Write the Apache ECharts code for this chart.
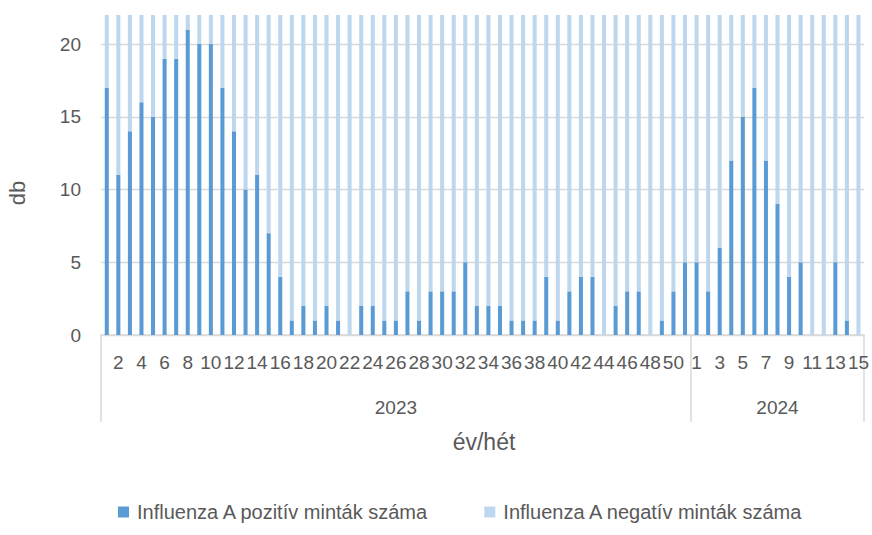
<!DOCTYPE html>
<html lang="hu">
<head>
    <meta charset="UTF-8">
    <title>Influenza A minták</title>
    <script src="https://cdn.jsdelivr.net/npm/echarts@6/dist/echarts.min.js"></script>
    <style>
        body { margin: 0; background: #fff; }
        #chart { width: 872px; height: 535px; }
    </style>
</head>
<body>
<div id="chart"></div>
<script>
    // hetek: 2023 1-51, 2024 1-15
    var weeks2023 = [1,2,3,4,5,6,7,8,9,10,11,12,13,14,15,16,17,18,19,20,21,22,23,24,25,26,27,28,29,30,
        31,32,33,34,35,36,37,38,39,40,41,42,43,44,45,46,47,48,49,50,51];
    var weeks2024 = [1,2,3,4,5,6,7,8,9,10,11,12,13,14,15];

    // pozitív minták
    var pos2023 = [17,11,14,16,15,19,19,21,20,20, 17,14,10,11,7,4,1,2,1,2,
        1,0,2,2,1,1,3,1,3,3, 3,5,2,2,2,1,1,1,4,1, 3,4,4,0,2,3,3,0,1,3,5];
    var pos2024 = [5,3,6,12,15,17,12,9,4,5,0,0,5,1,0];

    // negatív minták (a tengely 22-nél levágja)
    var neg2023 = [5,11,8,6,7,3,3,1,2,2, 5,8,12,11,15,18,21,20,21,20,
        21,22,20,20,21,21,19,21,19,19, 19,17,20,20,20,21,21,21,18,21, 19,18,18,22,20,19,19,22,21,19,17];
    var neg2024 = [17,19,16,10,7,5,10,13,18,17,22,22,17,21,22];

    var yTicks = [0, 5, 10, 15, 20];

    var categories = [];
    weeks2023.forEach(function (w) { categories.push('2023|' + w); });
    weeks2024.forEach(function (w) { categories.push('2024|' + w); });
    var posData = pos2023.concat(pos2024);
    var negData = neg2023.concat(neg2024);

    var firstOf2024 = weeks2023.length;
    var mid2023 = Math.floor(weeks2023.length / 2);
    var mid2024 = weeks2023.length + Math.floor(weeks2024.length / 2);

    var txt = '#595959';
    var font = 'Liberation Sans';

    var chart = echarts.init(document.getElementById('chart'), null, {renderer: 'svg'});
    chart.setOption({
        animation: false,
        textStyle: {fontFamily: font},
        grid: {left: 101, right: 4, top: 15, bottom: 200},
        legend: {
            left: 113, top: 497,
            itemWidth: 11, itemHeight: 11, itemGap: 55,
            icon: 'rect',
            textStyle: {color: txt, fontSize: 20, fontFamily: font, padding: [0, 0, 0, 3]},
            data: ['Influenza A pozitív minták száma', 'Influenza A negatív minták száma']
        },
        xAxis: [{
            type: 'category',
            data: categories,
            axisLine: {lineStyle: {color: '#D9D9D9', width: 1.5}},
            axisTick: {
                show: true, length: 87,
                interval: function (i) { return i === 0 || i === firstOf2024; },
                lineStyle: {color: '#D9D9D9', width: 1.5}
            },
            axisLabel: {
                color: txt, fontSize: 19, margin: 18,
                interval: function (i) { return i % 2 === 1; },
                formatter: function (v) { return v.split('|')[1]; }
            }
        }, {
            type: 'category',
            data: categories,
            position: 'bottom',
            offset: 45,
            axisLine: {show: false},
            axisTick: {show: false},
            axisLabel: {
                color: txt, fontSize: 19, margin: 18,
                interval: function (i) { return i === mid2023 || i === mid2024; },
                formatter: function (v) { return v.split('|')[0]; }
            }
        }],
        yAxis: {
            type: 'value',
            min: 0, max: 22, interval: 5,
            axisLine: {show: false},
            axisTick: {show: false},
            splitLine: {showMaxLine: false, lineStyle: {color: '#D9D9D9', width: 1.3}},
            axisLabel: {
                color: txt, fontSize: 19, margin: 20, showMaxLabel: false,
                formatter: function (v) { return yTicks.indexOf(v) >= 0 ? String(v) : ''; }
            }
        },
        graphic: [{
            type: 'text', x: 17, y: 193, rotation: Math.PI / 2,
            style: {text: 'db', fill: txt, fontSize: 22, fontFamily: font, align: 'center', verticalAlign: 'middle'}
        }, {
            type: 'text', x: 484, y: 442,
            style: {text: 'év/hét', fill: txt, fontSize: 23, fontFamily: font, align: 'center', verticalAlign: 'middle'}
        }],
        series: [{
            name: 'Influenza A pozitív minták száma',
            type: 'bar', stack: 'minta', barWidth: '35%',
            itemStyle: {color: '#5B9BD5'},
            data: posData
        }, {
            name: 'Influenza A negatív minták száma',
            type: 'bar', stack: 'minta', barWidth: '35%',
            itemStyle: {color: '#BDD7EE'},
            data: negData
        }]
    });
</script>
</body>
</html>
